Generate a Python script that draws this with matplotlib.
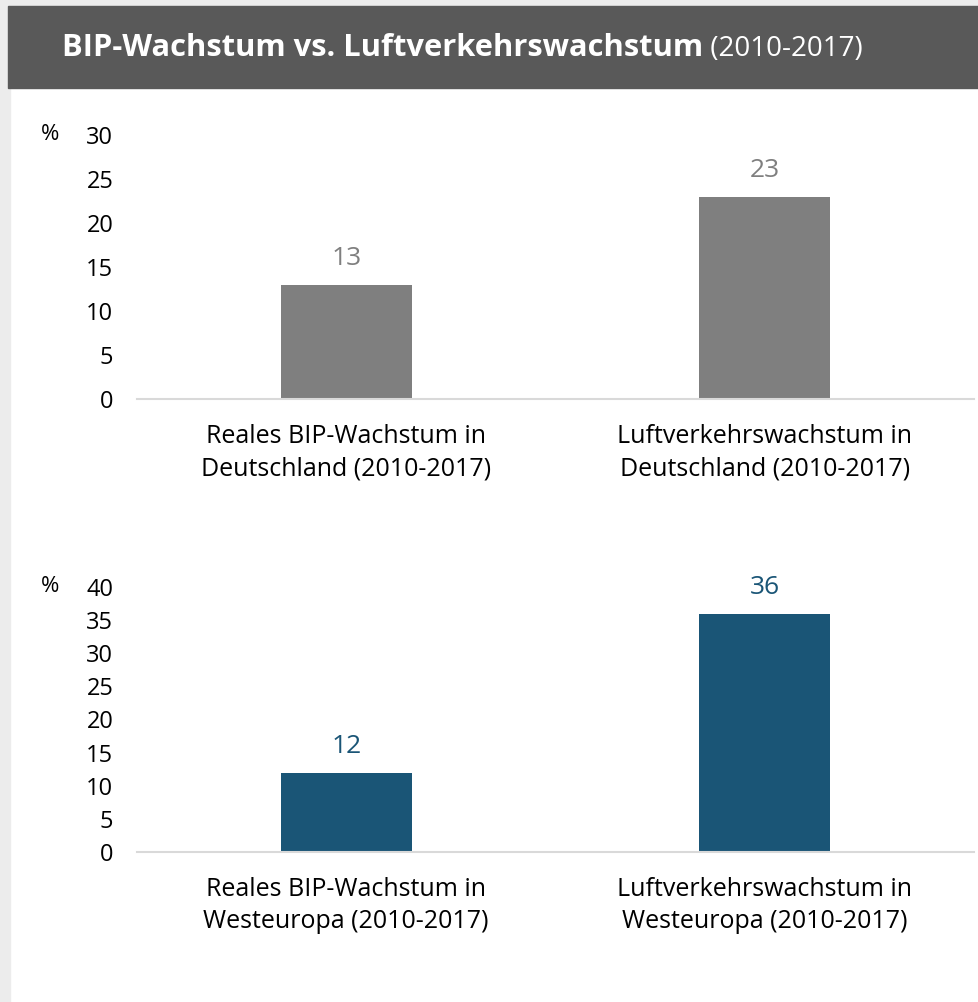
import matplotlib.pyplot as plt
from matplotlib.patches import Rectangle

plt.rcParams['font.family'] = ['Open Sans', 'DejaVu Sans']

title_bold = 'BIP-Wachstum vs. Luftverkehrswachstum'
title_light = ' (2010-2017)'

labels_de = ['Reales BIP-Wachstum in\nDeutschland (2010-2017)',
             'Luftverkehrswachstum in\nDeutschland (2010-2017)']
values_de = [13, 23]
ticks_de = [0, 5, 10, 15, 20, 25, 30]

labels_we = ['Reales BIP-Wachstum in\nWesteuropa (2010-2017)',
             'Luftverkehrswachstum in\nWesteuropa (2010-2017)']
values_we = [12, 36]
ticks_we = [0, 5, 10, 15, 20, 25, 30, 35, 40]

W, H = 979, 1002
fig = plt.figure(figsize=(W / 100, H / 100), dpi=100)
fig.patch.set_facecolor('white')

# light frame on the left / top, dark header band
fig.add_artist(Rectangle((0, 0), 10 / W, 1, transform=fig.transFigure,
                         color='#ececec', zorder=0))
fig.add_artist(Rectangle((0, 1 - 6 / H), 1, 6 / H, transform=fig.transFigure,
                         color='#ececec', zorder=0))
fig.add_artist(Rectangle((8 / W, 1 - 88 / H), 1, 82 / H, transform=fig.transFigure,
                         color='#595959', zorder=1))
t = fig.text(62 / W, 1 - 48 / H, title_bold, color='white', fontsize=22.2,
             fontweight='bold', va='center', ha='left', zorder=2)
fig.canvas.draw()
bb = t.get_window_extent()
fig.text(bb.x1 / W, 1 - 49 / H, title_light, color='white', fontsize=20,
         va='center', ha='left', zorder=2)

FS = 17


def draw_panel(rect, labels, values, ticks, color):
    ax = fig.add_axes(rect)
    x = range(len(values))
    ax.bar(x, values, width=0.313, color=color, zorder=2)
    ax.set_xlim(-0.5, 1.5)
    ax.set_ylim(ticks[0], ticks[-1])
    ax.set_yticks(ticks)
    ax.set_yticklabels([str(v) for v in ticks], fontsize=FS)
    ax.set_xticks(list(x))
    ax.set_xticklabels(labels, fontsize=18, linespacing=1.38)
    ax.tick_params(axis='y', length=0, pad=17)
    ax.tick_params(axis='x', length=0, pad=18)
    for s in ['top', 'right', 'left']:
        ax.spines[s].set_visible(False)
    ax.spines['bottom'].set_color('#d9d9d9')
    ax.spines['bottom'].set_linewidth(1.5)
    for xi, v in zip(x, values):
        ax.annotate(str(v), (xi, v), xytext=(0, 10), textcoords='offset points',
                    ha='center', va='bottom', fontsize=19, color=color)
    ax.text(-0.104, 1.0, '%', transform=ax.transAxes, ha='center', va='center',
            fontsize=FS - 1)
    return ax


draw_panel([137 / W, 1 - 399 / H, (974 - 137) / W, (399 - 135) / H],
           labels_de, values_de, ticks_de, '#7f7f7f')
draw_panel([137 / W, 1 - 852 / H, (974 - 137) / W, (852 - 587) / H],
           labels_we, values_we, ticks_we, '#1a5576')

fig.savefig('out.png', dpi=100, facecolor='white')
